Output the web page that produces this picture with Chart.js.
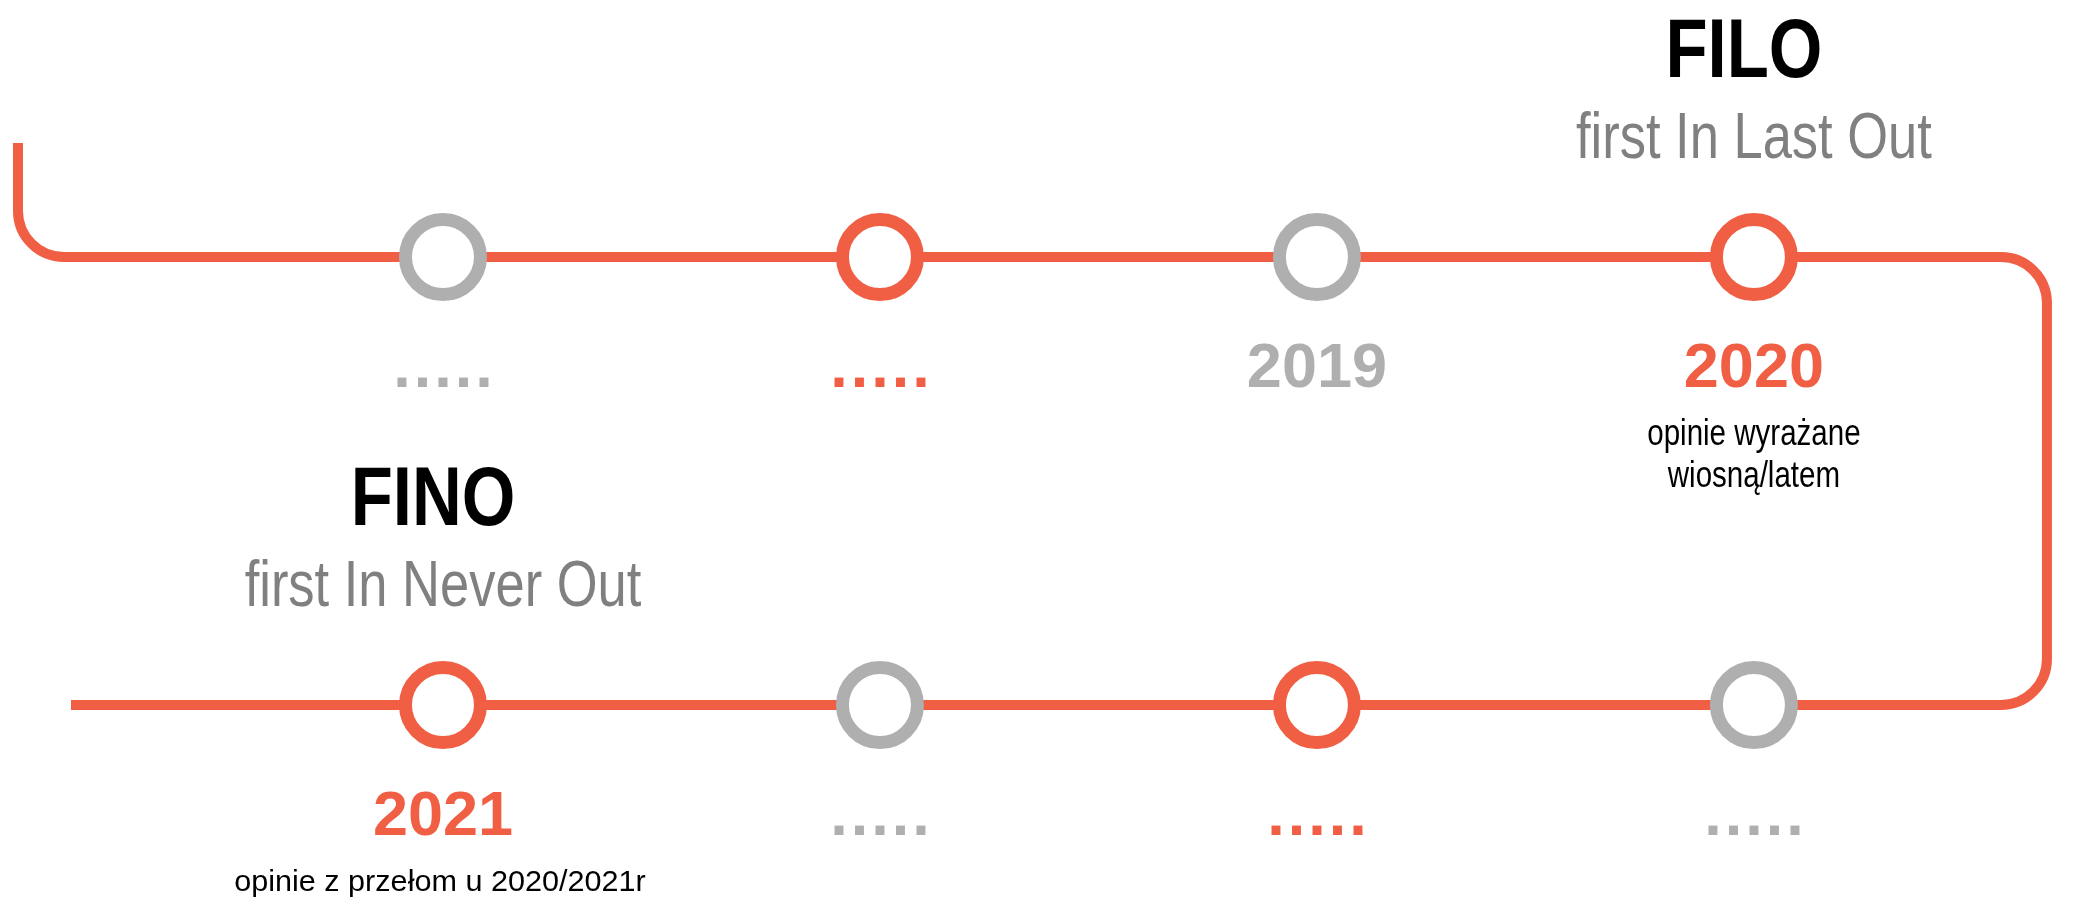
<!DOCTYPE html>
<html>
<head>
<meta charset="utf-8">
<script src="https://cdn.jsdelivr.net/npm/chart.js@4.4.1/dist/chart.umd.min.js"></script>
<style>
  html, body { margin: 0; padding: 0; background: #fff; }
  #wrap { width: 2093px; height: 899px; position: relative; }
</style>
</head>
<body>
<div id="wrap"><canvas id="timeline"></canvas></div>
<script>
// stations: column (1-4) and row (1 = upper track, 2 = lower track)
const stationCol = [1, 2, 3, 4, 1, 2, 3, 4];
const stationRow = [1, 1, 1, 1, 2, 2, 2, 2];
const stationLabels = ['.....', '.....', '2019', '2020', '2021', '.....', '.....', '.....'];
const stationAccent = [false, true, false, true, true, false, true, false];
const stationNotes = [[], [], [], ['opinie wyrażane', 'wiosną/latem'], ['opinie z przełom u 2020/2021r'], [], [], []];

// headings, each one sits above a station
const headingTitles = ['FILO', 'FINO'];
const headingSubtitles = ['first In Last Out', 'first In Never Out'];
const headingStation = [3, 4];

// the track the stations sit on (same units as the stations)
const trackCol = [0.0275, 0.0275, 4.6706, 4.6706, 0.1488];
const trackRow = [0.7455, 1, 1, 2, 2];

const ORANGE = '#F05F44';
const GREY = '#AFAFAF';
const SUBGREY = '#808080';

// is the narrow face installed? otherwise squeeze the regular one
function hasFont(name) {
  const c = document.createElement('canvas').getContext('2d');
  c.font = '40px monospace';
  const a = c.measureText('first In Never Out').width;
  c.font = '40px "' + name + '", monospace';
  const b = c.measureText('first In Never Out').width;
  return a !== b;
}
const NARROW = hasFont('Liberation Sans Narrow');

function drawText(ctx, text, x, y, weight, size, color, narrow, sx, spacing) {
  ctx.save();
  ctx.fillStyle = color;
  ctx.textAlign = 'center';
  ctx.textBaseline = 'alphabetic';
  let scaleX = sx || 1;
  if (narrow && NARROW) {
    ctx.font = weight + ' ' + size + 'px "Liberation Sans Narrow", "Liberation Sans", Arial, sans-serif';
  } else {
    ctx.font = weight + ' ' + size + 'px "Liberation Sans", Arial, sans-serif';
    if (narrow) scaleX *= 0.82;
  }
  let shift = 0;
  if (spacing) {
    ctx.letterSpacing = spacing + 'px';
    shift = spacing / 2;
  }
  ctx.translate(x + shift, y);
  ctx.scale(scaleX, 1);
  ctx.fillText(text, 0, 0);
  ctx.restore();
}

const trackPlugin = {
  id: 'track',
  beforeDatasetsDraw(chart) {
    const { ctx, scales: { x, y } } = chart;
    const pts = trackCol.map((c, i) => [x.getPixelForValue(c), y.getPixelForValue(trackRow[i])]);
    ctx.save();
    ctx.strokeStyle = ORANGE;
    ctx.lineWidth = 10;
    ctx.beginPath();
    ctx.moveTo(pts[0][0], pts[0][1]);
    for (let i = 1; i < pts.length - 1; i++) {
      ctx.arcTo(pts[i][0], pts[i][1], pts[i + 1][0], pts[i + 1][1], 46);
    }
    ctx.lineTo(pts[pts.length - 1][0], pts[pts.length - 1][1]);
    ctx.stroke();
    ctx.restore();
  }
};

const labelPlugin = {
  id: 'stationLabels',
  afterDatasetsDraw(chart) {
    const { ctx, scales: { x, y } } = chart;
    stationCol.forEach((c, i) => {
      const px = x.getPixelForValue(c);
      const py = y.getPixelForValue(stationRow[i]);
      const isDots = stationLabels[i] === '.....';
      drawText(ctx, stationLabels[i], px, py + 130, 'bold', 63,
        stationAccent[i] ? ORANGE : GREY, false, 1, isDots ? 3 : 0);
      const notes = stationNotes[i];
      if (notes.length === 1) {
        // single line note is set in the regular (wider) face
        drawText(ctx, notes[0], px - 3, py + 186, 'normal', 30, '#000', false, 1.02);
      } else {
        notes.forEach((line, k) => {
          drawText(ctx, line, px, py + 188 + k * 42, 'normal', 36, '#000', true);
        });
      }
    });
    headingTitles.forEach((t, h) => {
      const s = headingStation[h];
      const px = x.getPixelForValue(stationCol[s]);
      const py = y.getPixelForValue(stationRow[s]);
      drawText(ctx, t, px - 10, py - 180, 'bold', 84, '#000', true);
      drawText(ctx, headingSubtitles[h], px, py - 99, 'normal', 64, SUBGREY, true);
    });
  }
};

new Chart(document.getElementById('timeline'), {
  type: 'scatter',
  data: {
    datasets: [{
      data: stationCol.map((c, i) => ({ x: c, y: stationRow[i] })),
      pointRadius: 37.5,
      pointHoverRadius: 37.5,
      pointBorderWidth: 13,
      pointHoverBorderWidth: 13,
      pointBackgroundColor: '#fff',
      pointBorderColor: stationAccent.map(a => a ? ORANGE : GREY),
      pointHoverBorderColor: stationAccent.map(a => a ? ORANGE : GREY),
      clip: false
    }]
  },
  options: {
    responsive: true,
    maintainAspectRatio: false,
    animation: false,
    events: [],
    layout: { padding: 0, autoPadding: false },
    plugins: { legend: { display: false }, tooltip: { enabled: false } },
    scales: {
      x: { type: 'linear', min: -0.0137, max: 4.776, display: false },
      y: { type: 'linear', min: 0.4263, max: 2.433, reverse: true, display: false }
    }
  },
  plugins: [trackPlugin, labelPlugin]
});
</script>
</body>
</html>
